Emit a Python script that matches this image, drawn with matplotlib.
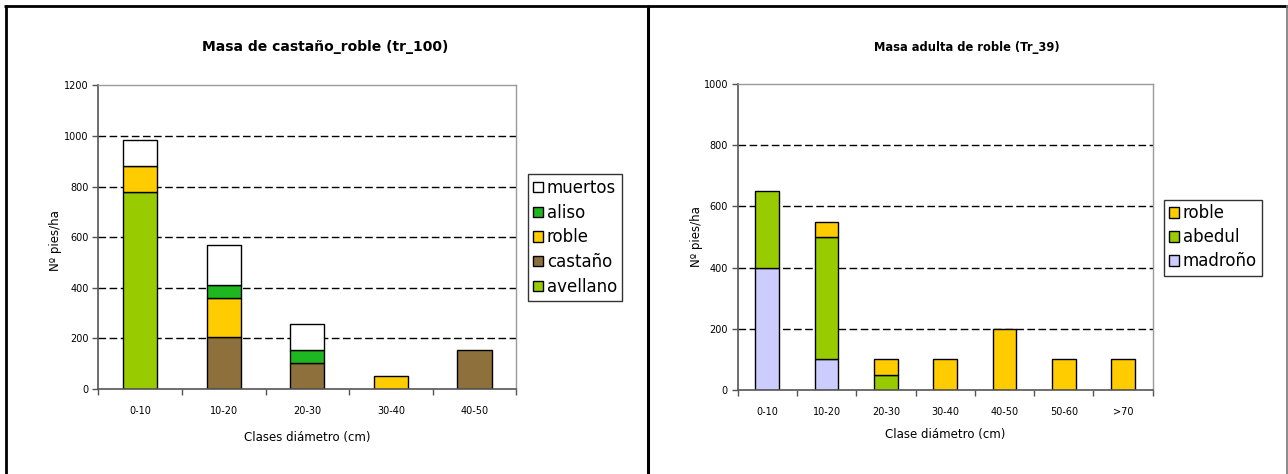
import matplotlib
matplotlib.use("Agg")
import matplotlib.pyplot as plt
from matplotlib.patches import Patch
from matplotlib.lines import Line2D
import numpy as np

# ---- data: left chart ----
left_title = "Masa de castaño_roble (tr_100)"
left_categories = ["0-10", "10-20", "20-30", "30-40", "40-50"]
left_avellano = [780, 0, 0, 0, 0]
left_castano = [0, 206, 103, 0, 155]
left_roble = [103, 155, 0, 52, 0]
left_aliso = [0, 52, 52, 0, 0]
left_muertos = [103, 155, 103, 0, 0]
left_yticks = [0, 200, 400, 600, 800, 1000, 1200]

# ---- data: right chart ----
right_title = "Masa adulta de roble (Tr_39)"
right_categories = ["0-10", "10-20", "20-30", "30-40", "40-50", "50-60", ">70"]
right_madrono = [400, 100, 0, 0, 0, 0, 0]
right_abedul = [250, 400, 50, 0, 0, 0, 0]
right_roble = [0, 50, 50, 100, 200, 100, 100]
right_yticks = [0, 200, 400, 600, 800, 1000]

C_AVELLANO = "#99CC00"
C_CASTANO = "#8E703C"
C_ROBLE = "#FFCC00"
C_ALISO = "#1FB71F"
C_MUERTOS = "#FFFFFF"
C_MADRONO = "#CCCCFF"
C_ABEDUL = "#99CC00"

W, H = 1288, 474
fig = plt.figure(figsize=(W / 100, H / 100), dpi=100)
fig.patch.set_facecolor("white")


def px_axes(x0, y0, x1, y1):
    return fig.add_axes([x0 / W, 1 - y1 / H, (x1 - x0) / W, (y1 - y0) / H])


def style_axes(ax, ncat, yticks):
    ax.set_xlim(0, ncat)
    ax.set_ylim(yticks[0], yticks[-1])
    ax.set_yticks(yticks)
    ax.set_xticks(np.arange(ncat) + 0.5)
    ax.set_xticks(np.arange(ncat + 1), minor=True)
    ax.tick_params(axis="x", which="major", length=0, labelsize=7, pad=12, colors="#000000")
    ax.tick_params(axis="x", which="minor", length=4, width=1, color="#555555")
    ax.tick_params(axis="y", length=4, width=1, labelsize=7, color="#555555", pad=3)
    for s in ("left", "bottom"):
        ax.spines[s].set_color("#555555")
        ax.spines[s].set_linewidth(1.2)
    for s in ("top", "right"):
        ax.spines[s].set_color("#9a9a9a")
        ax.spines[s].set_linewidth(1.0)
    for t in yticks[1:-1]:
        ax.axhline(t, color="black", lw=1.0, ls=(0, (5.5, 2.5)), zorder=0.5)


def stack(ax, series, colors, width):
    x = np.arange(len(series[0])) + 0.5
    bottom = np.zeros(len(series[0]))
    for vals, col in zip(series, colors):
        vals = np.asarray(vals, dtype=float)
        mask = vals > 0
        ax.bar(x[mask], vals[mask], width=width, bottom=bottom[mask], color=col,
               edgecolor="black", linewidth=1.0, zorder=2)
        bottom += vals


def make_legend(handles, x, y, spacing):
    leg = fig.legend(handles=handles, loc="upper left", bbox_to_anchor=(x / W, 1 - y / H),
                     fontsize=12, frameon=True, fancybox=False, shadow=False,
                     handlelength=0.6, handleheight=0.6, handletextpad=0.25,
                     borderpad=0.3, labelspacing=spacing, borderaxespad=0)
    leg.get_frame().set_edgecolor("black")
    leg.get_frame().set_linewidth(1.0)
    return leg


# ---- left chart ----
axL = px_axes(98.3, 85.4, 516.3, 389)
style_axes(axL, len(left_categories), left_yticks)
stack(axL, [left_avellano, left_castano, left_roble, left_aliso, left_muertos],
      [C_AVELLANO, C_CASTANO, C_ROBLE, C_ALISO, C_MUERTOS], 0.41)
axL.set_xticklabels(left_categories)
axL.set_xlabel("Clases diámetro (cm)", fontsize=8.5, labelpad=11)
axL.set_ylabel("Nº pies/ha", fontsize=8.5)
axL.yaxis.set_label_coords((62 - 98.3) / 418, 0.49)
fig.text(325 / W, 1 - 47 / H, left_title, ha="center", va="center",
         fontsize=10, fontweight="bold")
hL = [Patch(facecolor=c, edgecolor="black", label=l) for l, c in
      [("muertos", C_MUERTOS), ("aliso", C_ALISO), ("roble", C_ROBLE),
       ("castaño", C_CASTANO), ("avellano", C_AVELLANO)]]
make_legend(hL, 527.5, 174, 0.4)

# ---- right chart ----
axR = px_axes(737.7, 84, 1152.7, 390)
style_axes(axR, len(right_categories), right_yticks)
stack(axR, [right_madrono, right_abedul, right_roble],
      [C_MADRONO, C_ABEDUL, C_ROBLE], 0.4)
axR.set_xticklabels(right_categories)
axR.set_xlabel("Clase diámetro (cm)", fontsize=8.5, labelpad=8)
axR.set_ylabel("Nº pies/ha", fontsize=8.5)
axR.yaxis.set_label_coords((703 - 737.7) / 415, 0.5)
fig.text(967 / W, 1 - 47 / H, right_title, ha="center", va="center",
         fontsize=8.3, fontweight="bold")
hR = [Patch(facecolor=c, edgecolor="black", label=l) for l, c in
      [("roble", C_ROBLE), ("abedul", C_ABEDUL), ("madroño", C_MADRONO)]]
make_legend(hR, 1163.5, 199.5, 0.36)

# ---- outer frame ----
def fline(x0, y0, x1, y1, lw, color):
    fig.add_artist(Line2D([x0 / W, x1 / W], [1 - y0 / H, 1 - y1 / H],
                          transform=fig.transFigure, color=color, lw=lw,
                          solid_capstyle="butt"))

fline(4, 6, 1288, 6, 2.0, "black")
fline(6, 5, 6, 474, 2.0, "black")
fline(648, 5, 648, 474, 2.2, "black")
fline(1287, 5, 1287, 474, 1.2, "#777777")

fig.savefig("out.png", dpi=100, facecolor="white")
